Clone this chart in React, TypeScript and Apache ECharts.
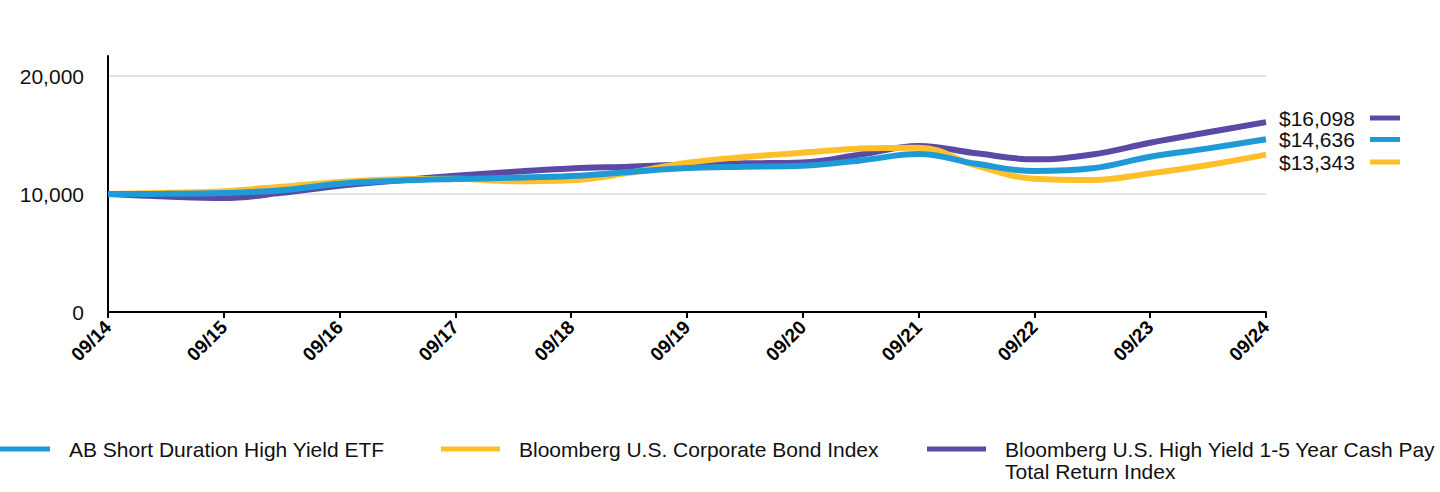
import React, { useEffect, useRef } from "react";
import * as echarts from "echarts";

// ---- Data ----
const tickLabels = ["09/14", "09/15", "09/16", "09/17", "09/18", "09/19", "09/20", "09/21", "09/22", "09/23", "09/24"];
// positions in years since 09/14
const t = [0, 0.5, 1, 1.5, 2, 2.5, 3, 3.5, 4, 4.5, 5, 5.5, 6, 6.5, 7, 7.5, 8, 8.5, 9, 9.5, 10];

const etfName = "AB Short Duration High Yield ETF";
const corpName = "Bloomberg U.S. Corporate Bond Index";
const hyName = "Bloomberg U.S. High Yield 1-5 Year Cash Pay\nTotal Return Index";

const etfValues = [10000, 10020, 10085, 10330, 10870, 11120, 11270, 11380, 11525, 11870, 12200, 12320, 12400, 12850, 13390, 12560, 11950, 12180, 13160, 13870, 14636];
const corpValues = [10000, 10100, 10240, 10620, 11030, 11250, 11300, 11090, 11170, 11800, 12650, 13140, 13500, 13850, 13930, 12400, 11300, 11190, 11750, 12460, 13343];
const hyValues = [10000, 9790, 9670, 10100, 10700, 11150, 11550, 11880, 12160, 12320, 12500, 12600, 12680, 13350, 14070, 13450, 12940, 13350, 14350, 15230, 16098];

const COLORS = { etf: "#1E9BD7", corp: "#FFBF2A", hy: "#5A4AA6" };
const FONT = "Liberation Sans, Arial, Helvetica, sans-serif";

const fmt = (v: number) => v.toLocaleString("en-US");
const pairs = (vals: number[]) => vals.map((v, i) => [t[i], v]);

export default function App() {
  const ref = useRef<HTMLDivElement>(null);
  useEffect(() => {
    if (!ref.current) return;
    const chart = echarts.init(ref.current, undefined, { renderer: "svg" });
    const last = (a: number[]) => a[a.length - 1];
    const endItems = [
      { val: last(hyValues), color: COLORS.hy, y: 118 },
      { val: last(etfValues), color: COLORS.etf, y: 139.5 },
      { val: last(corpValues), color: COLORS.corp, y: 162 },
    ];
    const legendItems = [
      { name: etfName, color: COLORS.etf, x: -9 },
      { name: corpName, color: COLORS.corp, x: 441 },
      { name: hyName, color: COLORS.hy, x: 927 },
    ];
    const graphic: any[] = [];
    endItems.forEach((e) => {
      graphic.push({
        type: "text",
        x: 1279,
        y: e.y,
        style: { text: "$" + fmt(e.val), font: `21px ${FONT}`, fill: "#111", verticalAlign: "middle", align: "left" },
      });
      graphic.push({ type: "rect", shape: { x: 1370, y: e.y - 2.5, width: 30, height: 5 }, style: { fill: e.color } });
    });
    legendItems.forEach((l) => {
      graphic.push({ type: "rect", shape: { x: l.x, y: 446.5, width: 59, height: 5 }, style: { fill: l.color } });
      graphic.push({
        type: "text",
        x: l.x + 59 + 19,
        y: 438,
        style: { text: l.name, font: `21px ${FONT}`, fill: "#111", verticalAlign: "top", align: "left", lineHeight: 22 },
      });
    });

    const lineSeries = (name: string, vals: number[], color: string, z: number) => ({
      name,
      type: "line",
      data: pairs(vals),
      showSymbol: false,
      smooth: 0.4,
      z,
      lineStyle: { width: 6, color },
      itemStyle: { color },
    });

    chart.setOption({
      animation: false,
      textStyle: { fontFamily: FONT },
      grid: { left: 108, right: 174, top: 56, bottom: 180, containLabel: false },
      xAxis: {
        type: "value",
        min: 0,
        max: 10,
        interval: 1,
        axisLine: { show: true, onZero: false, lineStyle: { color: "#000", width: 2 } },
        axisTick: { show: true, length: 6, lineStyle: { color: "#000", width: 2 } },
        splitLine: { show: false },
        axisLabel: {
          formatter: (v: number) => tickLabels[Math.round(v)] ?? "",
          rotate: 45,
          fontSize: 19,
          fontWeight: "bold",
          color: "#000",
          margin: 12,
        },
      },
      yAxis: {
        type: "value",
        min: 0,
        max: 21700,
        interval: 10000,
        axisLine: { show: true, lineStyle: { color: "#000", width: 2 } },
        axisTick: { show: false },
        splitLine: { show: true, showMinLine: false, showMaxLine: false, lineStyle: { color: "#e3e3e3", width: 2 } },
        axisLabel: {
          formatter: (v: number) => (v % 10000 === 0 ? fmt(v) : ""),
          showMaxLabel: false,
          fontSize: 21,
          color: "#111",
          margin: 24,
        },
      },
      series: [
        lineSeries(hyName, hyValues, COLORS.hy, 2),
        lineSeries(corpName, corpValues, COLORS.corp, 3),
        lineSeries(etfName, etfValues, COLORS.etf, 4),
      ],
      graphic,
    });
    return () => chart.dispose();
  }, []);
  return <div ref={ref} style={{ position: "absolute", left: 0, top: 0, width: 1440, height: 492 }} />;
}
